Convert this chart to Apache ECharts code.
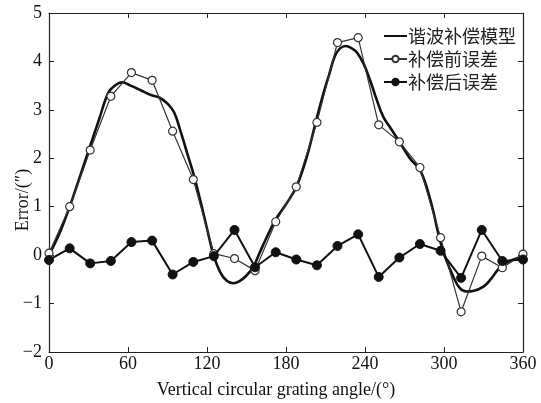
<!DOCTYPE html>
<html>
<head>
<meta charset="utf-8">
<script src="https://cdn.jsdelivr.net/npm/echarts@6/dist/echarts.min.js"></script>
<style>html,body{margin:0;padding:0;background:#fff}#c{width:541px;height:403px}</style>
</head>
<body>
<div id="c"></div>
<script>
// Sample angles (deg)
var angles = [0, 15.7, 31.3, 47.0, 62.6, 78.3, 93.9, 109.6, 125.2, 140.9, 156.5, 172.2, 187.8, 203.5, 219.1, 234.8, 250.4, 266.1, 281.7, 297.4, 313.0, 328.7, 344.3, 360];
// 补偿前误差
var before = [0.04, 1.0, 2.17, 3.28, 3.77, 3.61, 2.56, 1.56, 0.03, -0.07, -0.32, 0.69, 1.41, 2.74, 4.39, 4.49, 2.69, 2.34, 1.81, 0.36, -1.17, -0.02, -0.26, 0.02];
// 补偿后误差
var after = [-0.1, 0.14, -0.17, -0.12, 0.27, 0.30, -0.40, -0.14, -0.02, 0.52, -0.25, 0.06, -0.09, -0.21, 0.19, 0.43, -0.45, -0.05, 0.23, 0.09, -0.47, 0.52, -0.12, -0.09];
// 谐波补偿模型
var modelX = [0, 8, 15.7, 22, 30, 38, 45, 50, 55.5, 62, 70, 78, 84, 90, 95, 100, 105, 110, 115, 120, 125, 130, 135, 140, 145, 150, 155, 160, 165, 172, 180, 188, 196, 203, 208, 213, 217, 221, 225.5, 230, 234, 239, 244, 249, 254, 260, 266, 274, 282, 290, 297, 301, 307, 312, 317, 322, 330, 336, 342, 350, 360];
var modelY = [0.0, 0.45, 1.0, 1.5, 2.15, 2.8, 3.35, 3.5, 3.57, 3.5, 3.4, 3.3, 3.25, 3.13, 2.95, 2.55, 2.1, 1.65, 1.12, 0.55, 0.0, -0.35, -0.53, -0.58, -0.53, -0.42, -0.25, 0.05, 0.35, 0.73, 1.05, 1.42, 2.05, 2.79, 3.3, 3.75, 4.1, 4.27, 4.32, 4.27, 4.18, 3.95, 3.6, 3.2, 2.85, 2.6, 2.35, 2.0, 1.75, 1.1, 0.3, -0.05, -0.44, -0.68, -0.75, -0.74, -0.65, -0.48, -0.27, -0.12, -0.03];
var xTicks = [0, 60, 120, 180, 240, 300, 360];
var yTicks = [-2, -1, 0, 1, 2, 3, 4, 5];
var names = ['谐波补偿模型', '补偿前误差', '补偿后误差'];
var xTitle = 'Vertical circular grating angle/(°)';
var yTitle = 'Error/(″)';

function zip(a, b) { return a.map(function (v, i) { return [v, b[i]]; }); }

var serif = 'Liberation Serif';
var axisColor = '#222';
var chart = echarts.init(document.getElementById('c'), null, {renderer: 'canvas'});
var baseX = {
  type: 'value', min: xTicks[0], max: xTicks[xTicks.length - 1], interval: 60,
  axisLine: {show: true, onZero: false, lineStyle: {color: axisColor, width: 1.2}},
  axisTick: {show: true, inside: true, length: 5, lineStyle: {color: axisColor}},
  splitLine: {show: false}
};
var baseY = {
  type: 'value', min: yTicks[0], max: yTicks[yTicks.length - 1], interval: 1,
  axisLine: {show: true, onZero: false, lineStyle: {color: axisColor, width: 1.2}},
  axisTick: {show: true, inside: true, length: 5, lineStyle: {color: axisColor}},
  splitLine: {show: false}
};
chart.setOption({
  backgroundColor: '#fff',
  animation: false,
  grid: {left: 49, right: 18, top: 13, bottom: 51, containLabel: false, outerBoundsMode: 'none'},
  graphic: [{
    type: 'text', x: 23, y: 200, rotation: Math.PI / 2, silent: true,
    style: {text: yTitle, fontFamily: serif, fontSize: 18, fill: '#111', align: 'center', verticalAlign: 'middle'}
  }],
  legend: {
    orient: 'vertical', left: 378, top: 22, itemWidth: 23, itemHeight: 8, itemGap: 5,
    textStyle: {fontFamily: 'Noto Sans CJK SC', fontSize: 18, color: '#222', padding: [0, 0, 0, -4]},
    data: [
      {name: names[0], itemStyle: {opacity: 0}},
      {name: names[1]},
      {name: names[2]}
    ]
  },
  xAxis: [
    Object.assign({}, baseX, {
      position: 'bottom',
      name: xTitle, nameLocation: 'middle', nameGap: 29,
      nameTextStyle: {fontFamily: serif, fontSize: 18, color: '#111', padding: [0, 20, 0, 0]},
      axisLabel: {show: true, margin: 3, fontFamily: serif, fontSize: 18, color: '#111'}
    }),
    Object.assign({}, baseX, {position: 'top', axisLabel: {show: false}})
  ],
  yAxis: [
    Object.assign({}, baseY, {
      position: 'left',
      axisLabel: {show: true, margin: 7, fontFamily: serif, fontSize: 18, color: '#111',
        formatter: function (v) { return v < 0 ? '\u2212' + Math.abs(v) : String(v); }}
    }),
    Object.assign({}, baseY, {position: 'right', axisLabel: {show: false}})
  ],
  series: [
    {
      name: names[0], type: 'line', xAxisIndex: 0, yAxisIndex: 0,
      data: zip(modelX, modelY), smooth: 0.4, showSymbol: false, symbol: 'none',
      lineStyle: {color: '#111', width: 2.6}, itemStyle: {color: '#111'}, z: 3
    },
    {
      name: names[1], type: 'line', xAxisIndex: 0, yAxisIndex: 0,
      data: zip(angles, before), symbol: 'circle', symbolSize: 8, showSymbol: true,
      lineStyle: {color: '#333', width: 1.2},
      itemStyle: {color: '#fff', borderColor: '#333', borderWidth: 1.2}, z: 4
    },
    {
      name: names[2], type: 'line', xAxisIndex: 0, yAxisIndex: 0,
      data: zip(angles, after), symbol: 'circle', symbolSize: 9, showSymbol: true,
      lineStyle: {color: '#111', width: 2},
      itemStyle: {color: '#111', borderColor: '#111', borderWidth: 1}, z: 5
    }
  ]
});
</script>
</body>
</html>
